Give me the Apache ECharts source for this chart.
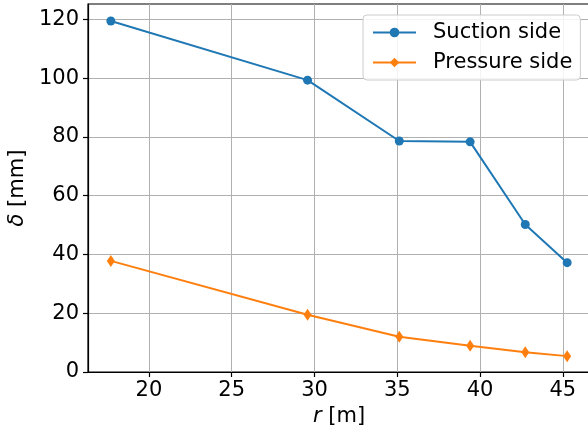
<!DOCTYPE html>
<html>
<head>
<meta charset="utf-8">
<script src="https://cdn.jsdelivr.net/npm/echarts@6/dist/echarts.min.js"></script>
<style>
html,body{margin:0;padding:0;background:#fff;}
#chart{width:588px;height:434px;}
</style>
</head>
<body>
<div id="chart"></div>
<script>
// Data
const rValues = [17.7, 29.58, 35.12, 39.4, 42.73, 45.26];
const suctionSide = [119.4, 99.3, 78.6, 78.3, 50.2, 37.2];
const pressureSide = [37.8, 19.5, 12.0, 8.9, 6.7, 5.4];
const xTicks = [20, 25, 30, 35, 40, 45];
const yTicks = [0, 20, 40, 60, 80, 100, 120];
const seriesNames = ['Suction side', 'Pressure side'];

const FONT = 'DejaVu Sans';
const chart = echarts.init(document.getElementById('chart'), null, {renderer: 'canvas'});

const pairs = (xs, ys) => xs.map((x, i) => [x, ys[i]]);

chart.setOption({
  animation: false,
  textStyle: {fontFamily: FONT},
  grid: {
    left: 88, top: 4, width: 502, height: 368,
    containLabel: false, outerBoundsMode: 'none',
    show: true, borderColor: '#000', borderWidth: 1.2, backgroundColor: 'transparent'
  },
  legend: {
    orient: 'vertical',
    left: 363, top: 15,
    backgroundColor: 'rgba(255,255,255,0.85)',
    borderColor: '#cccccc', borderWidth: 1, borderRadius: 4,
    padding: [7, 8, 7, 9],
    itemWidth: 43, itemHeight: 12, itemGap: 9,
    textStyle: {fontFamily: FONT, fontSize: 21, color: '#000', padding: [0, 0, 0, 12]},
    data: seriesNames
  },
  xAxis: {
    type: 'value',
    min: 16.32, max: 46.64,
    name: '{i|r} [m]',
    nameLocation: 'middle', nameGap: 33,
    nameTextStyle: {fontFamily: FONT, fontSize: 21, color: '#000',
      rich: {i: {fontFamily: FONT, fontStyle: 'italic', fontSize: 21, color: '#000'}}},
    axisLine: {show: true, onZero: false, lineStyle: {color: '#000', width: 1.2}},
    axisTick: {show: true, inside: false, length: 5, lineStyle: {color: '#000', width: 1.2}, customValues: xTicks},
    axisLabel: {color: '#000', fontSize: 21, fontFamily: FONT, margin: 8, customValues: xTicks},
    splitLine: {show: true, lineStyle: {color: '#b0b0b0', width: 1}}
  },
  yAxis: {
    type: 'value',
    min: 0, max: 125.2,
    name: '{i|δ} [mm]',
    nameLocation: 'middle', nameGap: 54, nameRotate: 90,
    nameTextStyle: {fontFamily: FONT, fontSize: 21, color: '#000',
      rich: {i: {fontFamily: FONT, fontStyle: 'italic', fontSize: 21, color: '#000'}}},
    axisLine: {show: true, onZero: false, lineStyle: {color: '#000', width: 1.2}},
    axisTick: {show: true, inside: false, length: 5, lineStyle: {color: '#000', width: 1.2}, customValues: yTicks},
    axisLabel: {color: '#000', fontSize: 21, fontFamily: FONT, margin: 9, customValues: yTicks},
    splitLine: {show: true, lineStyle: {color: '#b0b0b0', width: 1}}
  },
  series: [
    {
      name: seriesNames[0], type: 'line',
      data: pairs(rValues, suctionSide),
      symbol: 'circle', symbolSize: 9,
      lineStyle: {color: '#1f77b4', width: 2},
      itemStyle: {color: '#1f77b4'},
      z: 3
    },
    {
      name: seriesNames[1], type: 'line',
      data: pairs(rValues, pressureSide),
      symbol: 'diamond', symbolSize: [8, 12],
      lineStyle: {color: '#ff7f0e', width: 2},
      itemStyle: {color: '#ff7f0e'},
      z: 3
    }
  ]
});
</script>
</body>
</html>
